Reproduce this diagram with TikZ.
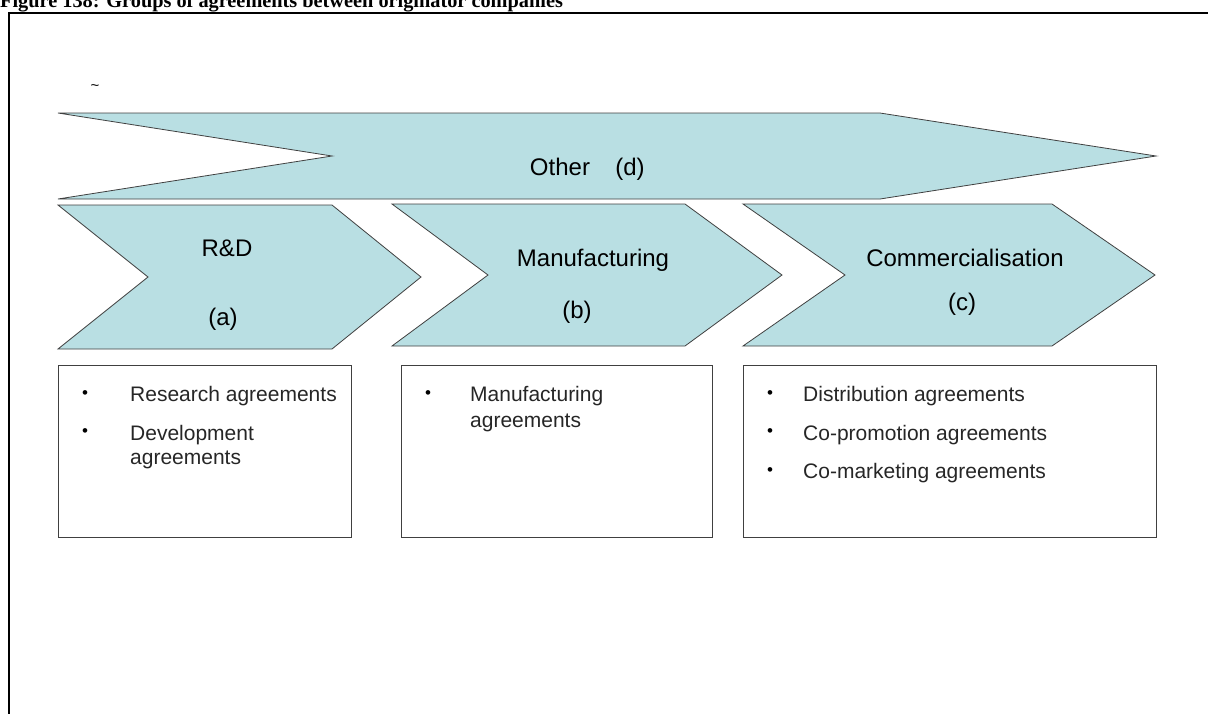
\documentclass[tikz,border=0pt]{standalone}
\usepackage{fontspec}
\setmainfont{Liberation Sans}
\newfontfamily\titlefont{Liberation Serif}
\definecolor{chev}{RGB}{185,223,227}
\definecolor{edge}{RGB}{64,64,64}
\begin{document}
\begin{tikzpicture}[x=1pt,y=-1pt,
  chevron/.style={fill=chev, draw=edge, line width=0.8pt, line join=miter},
  head/.style={font=\fontsize{24}{28}\selectfont, anchor=base, inner sep=0},
  listbox/.style={draw=edge, line width=0.9pt, anchor=north west, inner sep=0},
  item/.style={font=\fontsize{21}{25}\selectfont, anchor=base west, inner sep=0, text=black!85},
  dotmark/.style={font=\fontsize{17}{19}\selectfont, anchor=center, inner sep=0},
]
\useasboundingbox (0,0) rectangle (1208,713);
% title (cropped at top, as in the reference)
\node[font=\titlefont\bfseries\fontsize{20.3}{24}\selectfont, anchor=base west, inner sep=0] (title) at (0,7.5) {Figure 138: Groups of agreements between originator companies};
% frame
\draw[line width=2.3pt] (9,725) -- (9,13) -- (1220,13);
% small mark
\node[font=\fontsize{15}{17}\selectfont, inner sep=0] (tick) at (95,88) {\textasciitilde};
% top arrow
\draw[chevron] (58,113) -- (880,113) -- (1156,156) -- (880,199) -- (58,199) -- (332,156) -- cycle;
\node[head] (other) at (560,175) {Other};
\node[head] (d) at (630,175) {(d)};
% chevrons
\draw[chevron] (58,205) -- (332,205) -- (421,277) -- (332,349) -- (58,349) -- (148,277) -- cycle;
\draw[chevron] (392,204) -- (685,204) -- (782,275) -- (685,346) -- (392,346) -- (488,275) -- cycle;
\draw[chevron] (743,204) -- (1052,204) -- (1155,275) -- (1052,346) -- (743,346) -- (845,275) -- cycle;
\node[head] (rd) at (227,256) {R\&D};
\node[head] (a) at (223,325) {(a)};
\node[head] (mf) at (593,266) {Manufacturing};
\node[head] (b) at (577,318) {(b)};
\node[head] (cm) at (965,266) {Commercialisation};
\node[head] (c) at (962,310) {(c)};
% boxes
\node[listbox, minimum width=293, minimum height=172] (box1) at (58,365) {};
\node[listbox, minimum width=311, minimum height=172] (box2) at (401,365) {};
\node[listbox, minimum width=413, minimum height=172] (box3) at (743,365) {};
% box 1 items
\node[dotmark] (b1a) at (85,395) {•};
\node[item] (t1a) at (130,401.5) {Research agreements};
\node[dotmark] (b1b) at (85,433) {•};
\node[item] (t1b) at (130,440) {Development};
\node[item] (t1c) at (130,464.5) {agreements};
% box 2 items
\node[dotmark] (b2a) at (428,395) {•};
\node[item] (t2a) at (470,401.5) {Manufacturing};
\node[item] (t2b) at (470,427) {agreements};
% box 3 items
\node[dotmark] (b3a) at (770,395) {•};
\node[item] (t3a) at (803,401.5) {Distribution agreements};
\node[dotmark] (b3b) at (770,433) {•};
\node[item] (t3b) at (803,440) {Co-promotion agreements};
\node[dotmark] (b3c) at (770,472) {•};
\node[item] (t3c) at (803,478.5) {Co-marketing agreements};
\end{tikzpicture}
\end{document}
